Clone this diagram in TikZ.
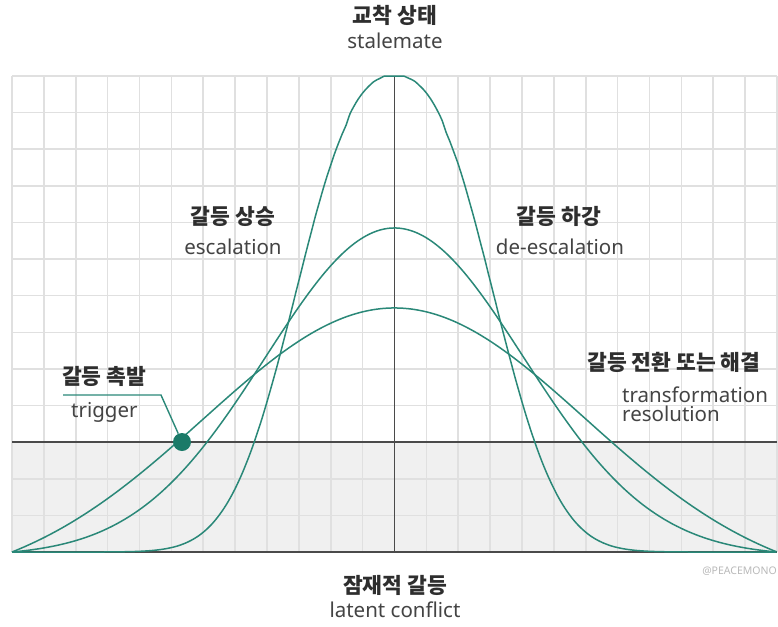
\documentclass[tikz,border=0pt]{standalone}
\usepackage{fontspec}
\setmainfont{Noto Sans}
\newfontfamily\kr{Noto Sans CJK KR}
\definecolor{teal1}{HTML}{2A8878}
\definecolor{dotc}{HTML}{1B7A68}
\definecolor{gridc}{HTML}{E0E0E0}
\definecolor{shadec}{HTML}{F0F0F0}
\definecolor{darkl}{HTML}{4A4A4A}
\definecolor{txt}{HTML}{444444}
\definecolor{krtxt}{HTML}{2E2E2E}
\begin{document}
\begin{tikzpicture}[x=1pt,y=-1pt,
  gridline/.style={draw=gridc,line width=1.6pt},
  axisline/.style={draw=darkl,line width=1.4pt},
  curve/.style={draw=teal1,line width=1.5pt},
  krlab/.style={inner sep=0pt,text=krtxt,font=\kr\bfseries\fontsize{21.5}{23}\selectfont},
  enlab/.style={inner sep=0pt,text=txt,font=\fontsize{20.5}{22}\selectfont},
  wmlab/.style={inner sep=0pt,text=gray!55,font=\fontsize{10.5}{11}\selectfont},
  dotstyle/.style={circle,fill=dotc,minimum size=18pt,inner sep=0pt}]
\useasboundingbox (0,0) rectangle (778,626);
\fill[white] (0,0) rectangle (778,626);
\fill[shadec] (12,442) rectangle (777,552);
\foreach \i in {0,...,24} \draw[gridline] ({12+31.875*\i},76) -- ({12+31.875*\i},552);
\foreach \j in {0,...,13} \draw[gridline] (12,{76+36.615*\j}) -- (777,{76+36.615*\j});
\draw[axisline] (12,442) -- (777,442);
\draw[axisline] (12,552) -- (777,552);
\draw[axisline] (394.5,76) -- (394.5,552);
% curves
\draw[curve] plot[domain=-1:1,samples=200,smooth] ({394.5+382.5*\x},{552-476*exp(-18*pow(abs(\x),2.5))});
\draw[curve] plot[domain=-1:1,samples=200,smooth] ({394.5+382.5*\x},{552-324*(exp(-4.4*\x*\x)-0.0123)/0.9877});
\draw[curve] plot[domain=-1:1,samples=200,smooth] ({394.5+382.5*\x},{552-244*(exp(-2*\x*\x)-0.1353)/0.8647});
% trigger marker
\coordinate (tl) at (63,395);
\coordinate (tk) at (161,395);
\node[dotstyle] (trig) at (182,442) {};
\draw[draw=teal1,line width=1.4pt] (tl) -- (tk) -- (trig);
% labels
\node[krlab] (t1) at (395,15) {교착 상태};
\node[enlab] (t2) at (395,41) {stalemate};
\node[krlab] (e1) at (233,216) {갈등 상승};
\node[enlab] (e2) at (233,247) {escalation};
\node[krlab] (d1) at (559,216) {갈등 하강};
\node[enlab] (d2) at (560,247) {de-escalation};
\node[krlab,anchor=west] (g1) at (62,376) {갈등 촉발};
\node[enlab,anchor=west] (g2) at (71,412) {trigger};
\node[krlab] (r1) at (674,362) {갈등 전환 또는 해결};
\node[enlab,anchor=west] (r2) at (622,395) {transformation};
\node[enlab,anchor=west] (r3) at (622,414) {resolution};
\node[krlab] (l1) at (395,585) {잠재적 갈등};
\node[enlab] (l2) at (395,610) {latent conflict};
\node[wmlab,anchor=east] (wm) at (777,571) {@PEACEMONO};
\end{tikzpicture}
\end{document}
